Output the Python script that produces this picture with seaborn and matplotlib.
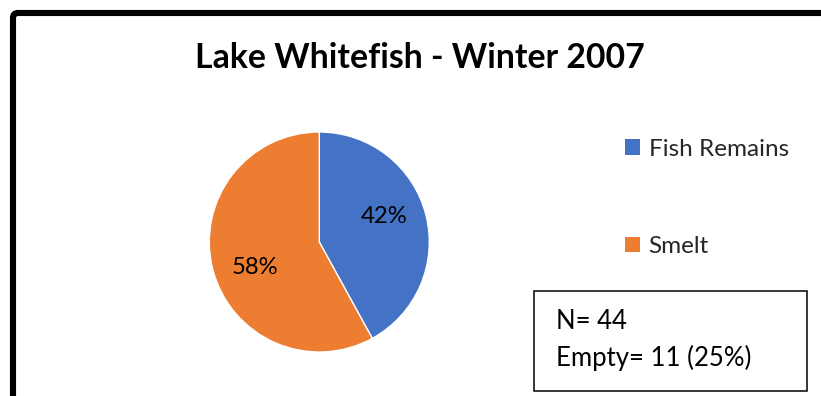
import matplotlib
matplotlib.use("Agg")
import matplotlib.pyplot as plt
from matplotlib.patches import FancyBboxPatch, Rectangle, Patch
import numpy as np
import seaborn as sns

# Diet composition
categories = ["Fish Remains", "Smelt"]
shares = [42, 58]
title = "Lake Whitefish - Winter 2007"
sample_n = 44
empty_n = 11
empty_pct = 25

sns.set_theme(style="white")
plt.rcParams["font.family"] = ["Lato", "DejaVu Sans"]
colors = ["#4472C4", "#ED7D31"]

W, H = 821, 396
fig = plt.figure(figsize=(W / 100, H / 100), dpi=100)
fig.patch.set_facecolor("white")

def fx(px):
    return px / W

def fy(py):
    return 1 - py / H

# Outer chart frame (runs off the right and bottom edges)
frame = FancyBboxPatch((fx(13), fy(420)), fx(850 - 13), (420 - 13) / H,
                       boxstyle="round,pad=0,rounding_size=0.006",
                       transform=fig.transFigure, fill=False,
                       edgecolor="black", linewidth=4.4, mutation_aspect=W / H)
fig.patches.append(frame)

fig.text(fx(420), fy(58), title, ha="center", va="center",
         fontsize=24.3, fontweight="bold", color="black")

# Pie
cx, cy, r = 319.3, 242, 110
ax = fig.add_axes([fx(cx - r), fy(cy + r), 2 * r / W, 2 * r / H])
wedges, texts, autotexts = ax.pie(
    shares, colors=colors, startangle=90, counterclock=False,
    autopct="%1.0f%%", pctdistance=0.62,
    wedgeprops=dict(edgecolor="white", linewidth=1.0),
    textprops=dict(fontsize=17.2, color="black"))
ax.set_xlim(-1, 1)
ax.set_ylim(-1, 1)
ax.set_aspect("equal")
ax.axis("off")

# Nudge the percentage labels a little counter-clockwise
for w, t in zip(wedges, autotexts):
    mid = np.deg2rad((w.theta1 + w.theta2) / 2 + 7)
    t.set_position((0.63 * np.cos(mid), 0.63 * np.sin(mid)))

# Legend
handles = [Patch(facecolor=c, edgecolor="none") for c in colors]
fig.legend(handles, categories, loc="upper left",
           bbox_to_anchor=(fx(615.3), fy(129)), frameon=False,
           fontsize=17.5, handlelength=0.62, handleheight=0.62,
           handletextpad=0.35, labelspacing=3.14, borderaxespad=0)

# Sample size box
fig.patches.append(Rectangle((fx(534), fy(391)), fx(807 - 534), (391 - 291) / H,
                             transform=fig.transFigure, fill=False,
                             edgecolor="black", linewidth=1.1))
fig.text(fx(556), fy(329), f"N= {sample_n}", ha="left", va="baseline",
         fontsize=18.5, color="black")
fig.text(fx(556), fy(366), f"Empty= {empty_n} ({empty_pct}%)", ha="left",
         va="baseline", fontsize=18.5, color="black")

fig.savefig("out.png", dpi=100, facecolor="white")
